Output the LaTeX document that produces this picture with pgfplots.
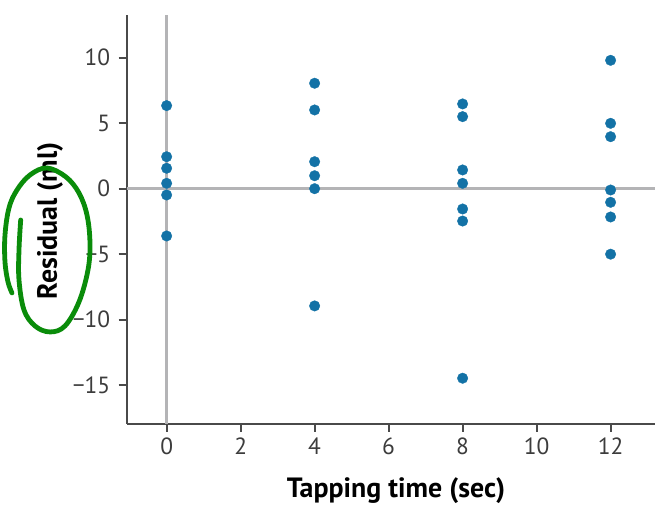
\documentclass[border=0pt]{standalone}
\usepackage{fontspec}
\setmainfont{PT Sans}
\usepackage{pgfplots}
\pgfplotsset{compat=1.18}
\usetikzlibrary{calc}
\definecolor{dot}{HTML}{1372A6}
\definecolor{axgray}{HTML}{4A4A4A}
\definecolor{refgray}{HTML}{B4B4B6}
\definecolor{txt}{HTML}{3C3C3C}
\definecolor{ann}{HTML}{0A8C0A}
\begin{document}
\begin{tikzpicture}
\begin{axis}[
  scale only axis, width=528.4bp, height=409bp,
  xmin=-1.08, xmax=13.2, ymin=-17.96, ymax=13.26,
  axis x line=bottom, axis y line=left,
  axis line style={-, draw=axgray, line width=1.8bp},
  xtick={0,2,...,12}, ytick={-15,-10,-5,0,5,10},
  xticklabels={0,2,4,6,8,10,12},
  yticklabels={−15,−10,−5,0,5,10},
  tick align=outside,
  major tick length=8bp,
  tick style={draw=axgray, line width=1.8bp},
  ticklabel style={font=\fontsize{23.5}{28}\selectfont, text=txt},
  yticklabel style={xshift=-5bp},
  xticklabel style={yshift=-2bp},
  xlabel={Tapping time (sec)}, ylabel={Residual (ml)},
  label style={font=\fontsize{28}{32}\selectfont\bfseries, text=black},
  xlabel style={at={(axis description cs:0.5097,-0.164)}, anchor=center},
  ylabel style={at={(axis description cs:-0.145,0.497)}, anchor=center},
  clip=false,
]
\addplot[refgray, line width=2.5bp, forget plot] coordinates {(0,-17.96) (0,13.26)};
\addplot[refgray, line width=2.5bp, forget plot] coordinates {(-1.08,0) (13.2,0)};
\addplot[only marks, mark=*, mark size=5.3bp, mark options={draw=dot, fill=dot, line width=0.3bp}] table {
x y
0 6.34
0 2.44
0 1.56
0 0.41
0 -0.48
0 -3.61
4 8.05
4 6.01
4 2.06
4 0.99
4 0.0
4 -8.95
8 6.47
8 5.5
8 1.43
8 0.41
8 -1.55
8 -2.47
8 -14.47
12 9.8
12 4.99
12 3.97
12 -0.1
12 -1.04
12 -2.16
12 -5.0
};
\end{axis}
\begin{scope}[shift={($(current axis.south west)+(-126.7bp,424bp)$)}, x=1bp, y=-1bp]
\draw[ann, line width=4.8bp, line cap=round, line join=round] plot[smooth, tension=0.6] coordinates {
(20.7,220) (19,250) (19,280) (24,310) (35,326) (50,332) (65,326) (79,302) (88,270) (90,243) (87,215) (79,193) (66,177) (47,168) (30,175) (17,190) (9,208) (5,235) (5,262) (8,282) (12,293)};
\end{scope}
\pgfresetboundingbox
\path ($(current axis.south west)+(-126.7bp,-81bp)$) rectangle ($(current axis.north east)+(0bp,15bp)$);
\end{tikzpicture}
\end{document}
